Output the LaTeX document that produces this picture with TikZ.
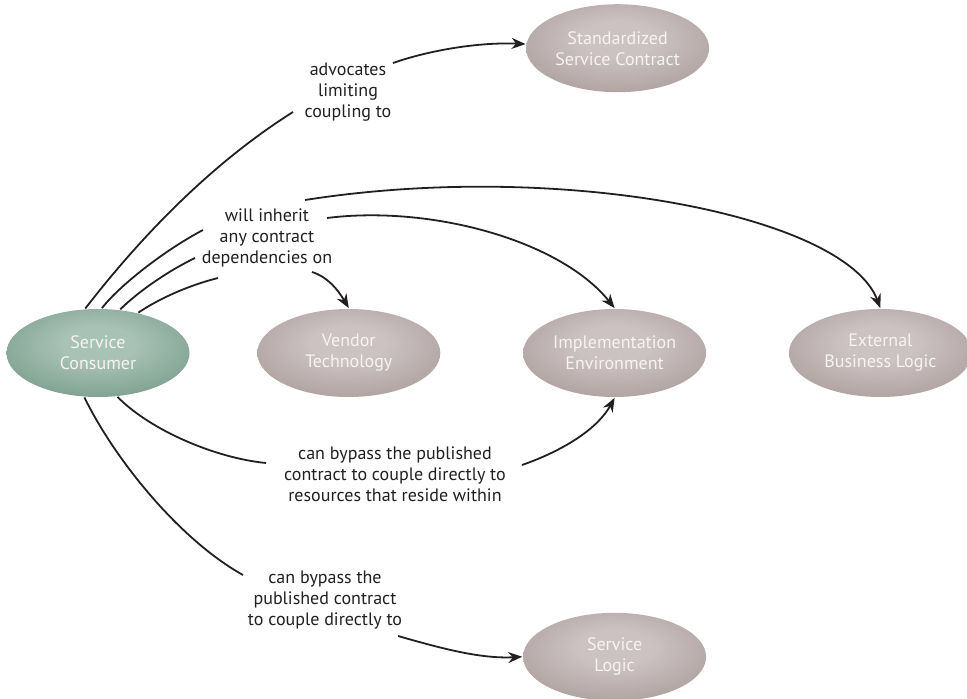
\documentclass[tikz,border=0pt]{standalone}
\usepackage{fontspec}
\setmainfont{PT Sans}
\usetikzlibrary{shapes.geometric,positioning,arrows.meta}

\definecolor{inkline}{HTML}{231F20}
\definecolor{nodetext}{HTML}{F7F3F3}
\definecolor{mauvelight}{HTML}{CBC2C1}
\definecolor{mauvedark}{HTML}{978786}
\definecolor{sagelight}{HTML}{A8C2B5}
\definecolor{sagedark}{HTML}{5A8470}

\pgfdeclareradialshading{mauveglow}{\pgfpoint{0bp}{6bp}}{color(0bp)=(mauvelight); color(10bp)=(mauvelight); color(48bp)=(mauvedark); color(80bp)=(mauvedark)}
\pgfdeclareradialshading{sageglow}{\pgfpoint{0bp}{6bp}}{color(0bp)=(sagelight); color(10bp)=(sagelight); color(48bp)=(sagedark); color(80bp)=(sagedark)}

\begin{document}
\begin{tikzpicture}[x=1pt,y=-1pt,>={Stealth[length=14pt,width=11pt]},line width=1.8pt,draw=inkline,
    service/.style={ellipse,minimum width=183pt,minimum height=88pt,inner sep=0pt,shading=mauveglow,
      text=nodetext,align=center,font=\fontsize{18}{21}\selectfont},
    consumer/.style={service,shading=sageglow},
    note/.style={align=center,text=inkline,font=\fontsize{18}{21}\selectfont}]
    \useasboundingbox (0,0) rectangle (967,699);
    % services
    \node[consumer] (cons) at (98,353) {Service\\Consumer};
    \node[service,right=66pt of cons] (vendor) {Vendor\\Technology};
    \node[service,right=81pt of vendor] (impl) {Implementation\\Environment};
    \node[service,right=81pt of impl] (ext) {External\\Business Logic};
    \node[service,above=215pt of impl,xshift=3pt] (contract) {Standardized\\Service Contract};
    \node[service,below=214pt of impl] (logic) {Service\\Logic};
    % labels
    \node[note] (adv) at (348,92) {advocates\\limiting\\coupling to};
    \node[note] (inherit) at (267,238) {will inherit\\any contract\\dependencies on};
    \node[note] (bypassA) at (395,474) {can bypass the published\\contract to couple directly to\\resources that reside within};
    \node[note] (bypassB) at (325,600) {can bypass the\\published contract\\to couple directly to};
    % line ends round the labels
    \coordinate (a1) at (293,112);
    \coordinate (a2) at (393,63);
    \coordinate (b1) at (203,230);
    \coordinate (b2) at (195,258);
    \coordinate (b3) at (218,278);
    \coordinate (c1) at (305,200);
    \coordinate (c2) at (327,218);
    \coordinate (c3) at (312,272);
    \coordinate (d1) at (266,463);
    \coordinate (d2) at (522,465);
    \coordinate (e1) at (243,575);
    \coordinate (e2) at (398,636);
    % arrows
    \draw (cons.106) .. controls (150,225) and (220,158) .. (a1);
    \draw[->] (a2) .. controls (430,50) and (480,42) .. (contract);
    \draw (cons.85) .. controls (120,285) and (165,250) .. (b1);
    \draw[->] (c1) .. controls (560,160) and (845,215) .. (ext.north);
    \draw (cons.63) .. controls (140,290) and (170,270) .. (b2);
    \draw[->] (c2) .. controls (430,205) and (560,240) .. (impl.north);
    \draw (cons.45) .. controls (160,298) and (190,285) .. (b3);
    \draw[->] (c3) .. controls (328,277) and (338,290) .. (vendor.north);
    \draw (cons.294) .. controls (150,430) and (215,458) .. (d1);
    \draw[->] (d2) .. controls (565,450) and (598,428) .. (impl.south);
    \draw (cons.253) .. controls (115,460) and (180,540) .. (e1);
    \draw[->] (e2) .. controls (440,648) and (480,659) .. (logic.west);
\end{tikzpicture}
\end{document}
